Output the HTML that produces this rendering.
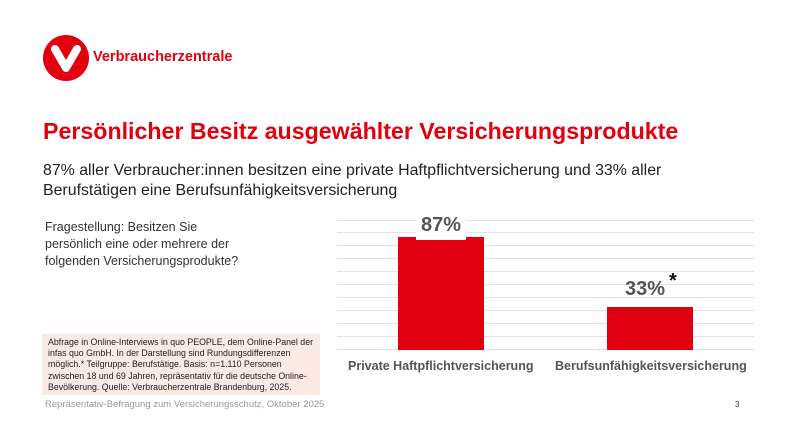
<!DOCTYPE html><html><head><style>
body{margin:0;width:785px;height:442px;background:#fff;position:relative;overflow:hidden;font-family:"Liberation Sans",sans-serif}
.a{position:absolute;white-space:nowrap}
.g{position:absolute;left:337px;width:418px;height:1px;background:#e3e3e3}
</style></head><body>
<svg class="a" style="left:43px;top:35px" width="46" height="46"><circle cx="23" cy="23" r="23" fill="#e2000f"/><path d="M12 14 L23 33 L34 14" stroke="#fff" stroke-width="8" fill="none" stroke-linecap="round" stroke-linejoin="round"/></svg>
<div class="a" style="left:93px;top:49px;font-size:14.5px;font-weight:bold;color:#e2000f">Verbraucherzentrale</div>
<div class="a" style="left:43px;top:118px;font-size:23.2px;font-weight:bold;color:#e2000f">Persönlicher Besitz ausgewählter Versicherungsprodukte</div>
<div class="a" style="left:43px;top:161px;font-size:15.9px;color:#222;line-height:20px">87% aller Verbraucher:innen besitzen eine private Haftpflichtversicherung und 33% aller<br>Berufstätigen eine Berufsunfähigkeitsversicherung</div>
<div class="a" style="left:45px;top:219px;font-size:12.5px;color:#333;line-height:17px">Fragestellung: Besitzen Sie<br>persönlich eine oder mehrere der<br>folgenden Versicherungsprodukte?</div>
<div class="a" style="left:42px;top:334px;width:272px;height:58px;background:#fbe9e3;padding:3px 0 0 6px;font-size:8.8px;color:#222;line-height:11.2px;white-space:normal">Abfrage in Online-Interviews in quo PEOPLE, dem Online-Panel der infas quo GmbH. In der Darstellung sind Rundungsdifferenzen möglich.* Teilgruppe: Berufstätige. Basis: n=1.110 Personen zwischen 18 und 69 Jahren, repräsentativ für die deutsche Online-Bevölkerung. Quelle: Verbraucherzentrale Brandenburg, 2025.</div>
<div class="a" style="left:45px;top:399px;font-size:9.5px;color:#999">Repräsentativ-Befragung zum Versicherungsschutz, Oktober 2025</div>
<div class="a" style="left:735px;top:400px;font-size:8px;color:#333">3</div>
<div class="g" style="top:220px"></div><div class="g" style="top:232px"></div><div class="g" style="top:245px"></div><div class="g" style="top:258px"></div><div class="g" style="top:271px"></div><div class="g" style="top:284px"></div><div class="g" style="top:297px"></div><div class="g" style="top:310px"></div><div class="g" style="top:323px"></div><div class="g" style="top:336px"></div><div class="g" style="top:349px"></div>
<div class="a" style="left:398px;top:237px;width:86px;height:113px;background:#e0000f"></div>
<div class="a" style="left:607px;top:307px;width:86px;height:43px;background:#e0000f"></div>
<div class="a" style="left:416px;top:214px;width:50px;height:26px;background:#fff"></div>
<div class="a" style="left:398px;top:214px;width:86px;text-align:center;font-size:20px;font-weight:bold;color:#555">87%</div>
<div class="a" style="left:625px;top:278px;font-size:20px;font-weight:bold;color:#555">33%</div>
<div class="a" style="left:669px;top:270px;font-size:20px;font-weight:bold;color:#111">*</div>
<div class="a" style="left:348px;top:359px;font-size:12.5px;font-weight:bold;color:#555">Private Haftpflichtversicherung</div>
<div class="a" style="left:555px;top:359px;font-size:12.5px;font-weight:bold;color:#555">Berufsunfähigkeitsversicherung</div>
</body></html>
